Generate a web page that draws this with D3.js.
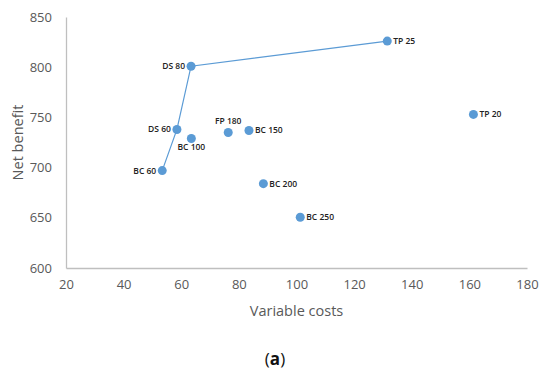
<!DOCTYPE html>
<html>
<head>
<meta charset="utf-8">
<script src="https://cdn.jsdelivr.net/npm/d3@7"></script>
<style>
  body { margin: 0; background: #fff; }
  .tick text { font-family: "Open Sans", sans-serif; font-size: 13px; fill: #595959; }
  .axis path { stroke: #bfbfbf; stroke-width: 1.3; }
  .axis-title { font-family: "Open Sans", sans-serif; font-size: 14.5px; fill: #595959; }
  .label { font-family: "Open Sans", sans-serif; font-size: 8.5px; font-weight: 600; fill: #222; }
</style>
</head>
<body>
<svg class="chart" width="550" height="377"></svg>
<script>
// Scenario names, variable costs and net benefit
const names = ["DS 80", "DS 60", "BC 100", "FP 180", "BC 150", "BC 60", "BC 200", "TP 25", "TP 20", "BC 250"];
const costs = [63.4, 58.5, 63.5, 76.3, 83.5, 53.4, 88.5, 131.5, 161.4, 101.3];
const benefit = [801, 738, 729, 735, 737, 697, 684, 826, 753, 650.5];
// where the label sits next to the dot
const labelSide = ["left", "left", "below", "above", "right", "left", "right", "right", "right", "right"];
// frontier line through these points
const frontier = ["BC 60", "DS 60", "DS 80", "TP 25"];
const xTicks = [20, 40, 60, 80, 100, 120, 140, 160, 180];
const yTicks = [600, 650, 700, 750, 800, 850];

const points = names.map((n, i) => ({ name: n, x: costs[i], y: benefit[i], side: labelSide[i] }));

const svg = d3.select(".chart"),
    margin = { top: 17, right: 23, bottom: 109, left: 66 },
    width = +svg.attr("width") - margin.left - margin.right,
    height = +svg.attr("height") - margin.top - margin.bottom,
    g = svg.append("g").attr("transform", `translate(${margin.left},${margin.top})`);

const x = d3.scaleLinear().domain([20, 180]).range([0, width]);
const y = d3.scaleLinear().domain([600, 850]).range([height, 0]);

g.append("g")
    .attr("class", "axis")
    .attr("transform", `translate(0,${height})`)
    .call(d3.axisBottom(x).tickValues(xTicks).tickSize(0).tickPadding(12));

g.append("g")
    .attr("class", "axis")
    .call(d3.axisLeft(y).tickValues(yTicks).tickSize(0).tickPadding(14));

const line = d3.line()
    .x(d => x(d.x))
    .y(d => y(d.y));

g.append("path")
    .datum(frontier.map(n => points.find(p => p.name === n)))
    .attr("fill", "none")
    .attr("stroke", "#5b9bd5")
    .attr("stroke-width", 1.2)
    .attr("d", line);

g.selectAll(".dot")
    .data(points)
    .enter().append("circle")
    .attr("class", "dot")
    .attr("cx", d => x(d.x))
    .attr("cy", d => y(d.y))
    .attr("r", 4.5)
    .attr("fill", "#5b9bd5");

g.selectAll(".label")
    .data(points)
    .enter().append("text")
    .attr("class", "label")
    .attr("x", d => d.side === "left" ? x(d.x) - 6 : d.side === "right" ? x(d.x) + 6 : x(d.x))
    .attr("y", d => d.side === "above" ? y(d.y) - 8 : d.side === "below" ? y(d.y) + 12 : y(d.y))
    .attr("dy", d => (d.side === "left" || d.side === "right") ? "0.35em" : 0)
    .attr("text-anchor", d => d.side === "left" ? "end" : d.side === "right" ? "start" : "middle")
    .text(d => d.name);

svg.append("text")
    .attr("class", "axis-title")
    .attr("x", margin.left + width / 2)
    .attr("y", 316)
    .attr("text-anchor", "middle")
    .text("Variable costs");

svg.append("text")
    .attr("class", "axis-title")
    .attr("transform", `translate(23,${margin.top + height / 2}) rotate(-90)`)
    .attr("text-anchor", "middle")
    .text("Net benefit");

const cap = svg.append("text")
    .attr("x", 275)
    .attr("y", 365)
    .attr("text-anchor", "middle")
    .style("font-family", "'Open Sans', sans-serif")
    .style("font-size", "17px")
    .style("fill", "#111");
cap.append("tspan").text("(");
cap.append("tspan").style("font-weight", "bold").text("a");
cap.append("tspan").text(")");
</script>
</body>
</html>
